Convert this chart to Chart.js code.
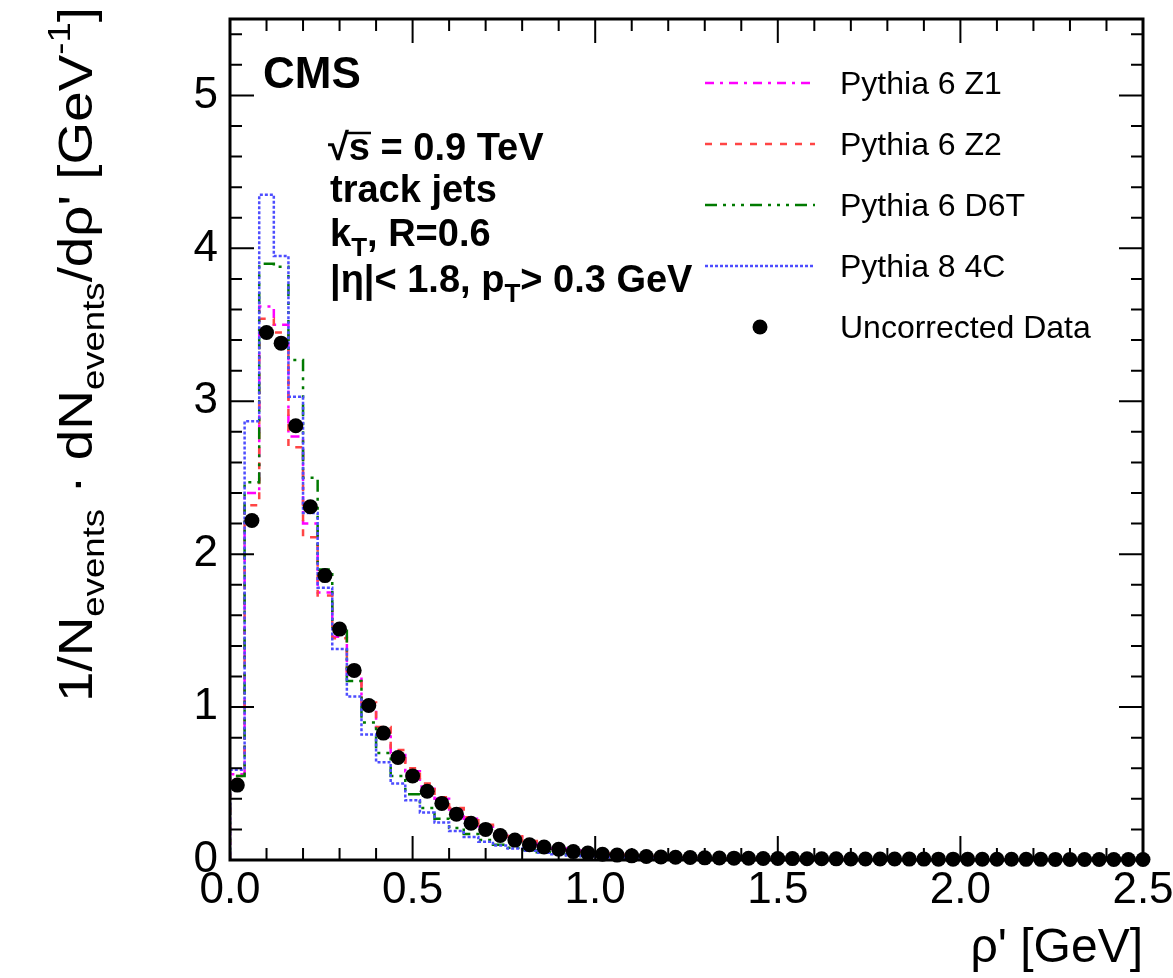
<!DOCTYPE html>
<html>
<head>
<meta charset="utf-8">
<script src="https://cdn.jsdelivr.net/npm/chart.js@4.4.1/dist/chart.umd.min.js"></script>
<style>
  html, body { margin: 0; padding: 0; background: #fff; }
  #wrap { position: relative; width: 1173px; height: 978px; }
</style>
</head>
<body>
<div id="wrap"><canvas id="myChart"></canvas></div>
<script>
// bins of 0.04 GeV starting at 0
const binWidth = 0.04;

const dataValues = [0.49, 2.22, 3.45, 3.38, 2.84, 2.31, 1.86, 1.51, 1.24, 1.01,
  0.83, 0.67, 0.55, 0.45, 0.37, 0.30, 0.24, 0.20, 0.16, 0.13,
  0.10, 0.085, 0.07, 0.055, 0.045, 0.038, 0.032, 0.027, 0.023, 0.020,
  0.018, 0.016, 0.014, 0.013, 0.012, 0.011, 0.010, 0.0095, 0.009, 0.0085,
  0.008, 0.0075, 0.007, 0.0068, 0.0065, 0.0062, 0.006, 0.0058, 0.0056, 0.0054,
  0.0052, 0.005, 0.0048, 0.0046, 0.0044, 0.0042, 0.004, 0.0038, 0.0036, 0.0034,
  0.0032, 0.003, 0.003];

const z1Values = [0.56, 2.40, 3.62, 3.50, 2.77, 2.20, 1.75, 1.46, 1.21, 1.01,
  0.85, 0.70, 0.58, 0.48, 0.40, 0.33, 0.27, 0.22, 0.18, 0.15,
  0.12, 0.095, 0.077, 0.062, 0.05, 0.04, 0.033, 0.027, 0.022, 0.018,
  0.015, 0.013, 0.011, 0.010, 0.009, 0.0085, 0.008, 0.0075, 0.007, 0.0066,
  0.0062, 0.0058, 0.0055, 0.0052, 0.005, 0.0048, 0.0046, 0.0044, 0.0042, 0.004,
  0.0038, 0.0036, 0.0035, 0.0034, 0.0033, 0.0032, 0.0031, 0.003, 0.0029, 0.0028,
  0.0027, 0.0026, 0.0025];

const z2Values = [0.55, 2.32, 3.54, 3.45, 2.70, 2.11, 1.73, 1.45, 1.22, 1.03,
  0.87, 0.72, 0.60, 0.50, 0.41, 0.34, 0.28, 0.23, 0.19, 0.155,
  0.125, 0.10, 0.08, 0.065, 0.052, 0.042, 0.034, 0.028, 0.023, 0.019,
  0.016, 0.014, 0.012, 0.011, 0.010, 0.009, 0.0085, 0.008, 0.0075, 0.007,
  0.0066, 0.0062, 0.0058, 0.0055, 0.0052, 0.005, 0.0048, 0.0046, 0.0044, 0.0042,
  0.004, 0.0038, 0.0036, 0.0035, 0.0034, 0.0033, 0.0032, 0.0031, 0.003, 0.0029,
  0.0028, 0.0027, 0.0026];

const d6tValues = [0.55, 2.47, 3.90, 3.88, 3.27, 2.50, 1.90, 1.50, 1.17, 0.90,
  0.70, 0.55, 0.43, 0.34, 0.27, 0.21, 0.17, 0.13, 0.10, 0.08,
  0.063, 0.05, 0.04, 0.032, 0.026, 0.021, 0.017, 0.014, 0.012, 0.010,
  0.0088, 0.0078, 0.007, 0.0063, 0.0057, 0.0052, 0.0048, 0.0044, 0.0041, 0.0038,
  0.0036, 0.0034, 0.0032, 0.003, 0.0029, 0.0028, 0.0027, 0.0026, 0.0025, 0.0024,
  0.0023, 0.0022, 0.0021, 0.002, 0.002, 0.0019, 0.0019, 0.0018, 0.0018, 0.0017,
  0.0017, 0.0016, 0.0016];

const c4Values = [0.59, 2.87, 4.35, 3.95, 3.03, 2.27, 1.78, 1.38, 1.07, 0.82,
  0.64, 0.50, 0.39, 0.31, 0.245, 0.19, 0.15, 0.12, 0.095, 0.075,
  0.06, 0.047, 0.037, 0.03, 0.024, 0.019, 0.016, 0.013, 0.011, 0.009,
  0.0078, 0.0068, 0.006, 0.0054, 0.0049, 0.0045, 0.0041, 0.0038, 0.0035, 0.0033,
  0.0031, 0.0029, 0.0027, 0.0026, 0.0025, 0.0024, 0.0023, 0.0022, 0.0021, 0.002,
  0.0019, 0.0019, 0.0018, 0.0018, 0.0017, 0.0017, 0.0016, 0.0016, 0.0015, 0.0015,
  0.0014, 0.0014, 0.0013];

const xTicks = [0, 0.5, 1.0, 1.5, 2.0, 2.5];
const yTicks = [0, 1, 2, 3, 4, 5];
const seriesNames = ["Pythia 6 Z1", "Pythia 6 Z2", "Pythia 6 D6T", "Pythia 8 4C", "Uncorrected Data"];

const tickFont = { family: "'Liberation Sans', sans-serif", size: 44 };

// histogram outline: points at lower bin edges, drawn with stepped 'before'
function histPoints(vals) {
  const pts = [{ x: 0, y: 0 }];
  vals.forEach((v, i) => pts.push({ x: i * binWidth, y: v }));
  pts.push({ x: vals.length * binWidth, y: vals[vals.length - 1] });
  return pts;
}

function mcDataset(label, vals, color, dash) {
  return {
    label: label,
    data: histPoints(vals),
    borderColor: color,
    borderWidth: 2.5,
    borderDash: dash,
    stepped: "before",
    pointRadius: 0,
    fill: false,
    tension: 0,
  };
}

const datasets = [
  {
    label: seriesNames[4],
    data: dataValues.map((v, i) => ({ x: (i + 0.5) * binWidth, y: v })),
    showLine: false,
    pointRadius: 7.5,
    pointBackgroundColor: "#000",
    pointBorderColor: "#000",
    pointBorderWidth: 0,
    clip: false,
  },
  mcDataset(seriesNames[3], c4Values, "#4d4dff", [3, 2]),
  mcDataset(seriesNames[2], d6tValues, "#007a00", [12, 6, 3, 6, 3, 6, 3, 6]),
  mcDataset(seriesNames[1], z2Values, "#ff4545", [7, 8]),
  mcDataset(seriesNames[0], z1Values, "#ff00ff", [9, 6, 3, 6]),
];

function drawRuns(ctx, x, y, runs) {
  runs.forEach((r) => {
    ctx.font = r.font;
    ctx.fillText(r.t, x, y + (r.dy || 0));
    r.x0 = x;
    x += ctx.measureText(r.t).width;
    r.x1 = x;
  });
  return x;
}

// ROOT-like frame with inward ticks on all four sides
const framePlugin = {
  id: "rootFrame",
  afterDatasetsDraw(chart) {
    const { ctx, chartArea: a, scales } = chart;
    const xs = scales.x, ys = scales.y;
    ctx.save();
    ctx.strokeStyle = "#000";
    ctx.lineWidth = 2;
    ctx.beginPath();
    for (let i = 0; i <= 25; i++) {
      const px = xs.getPixelForValue(i * 0.1);
      const len = i % 5 === 0 ? 24 : 12;
      ctx.moveTo(px, a.bottom); ctx.lineTo(px, a.bottom - len);
      ctx.moveTo(px, a.top); ctx.lineTo(px, a.top + len);
    }
    for (let i = 0; i <= 27; i++) {
      const py = ys.getPixelForValue(i * 0.2);
      const len = i % 5 === 0 ? 24 : 12;
      ctx.moveTo(a.left, py); ctx.lineTo(a.left + len, py);
      ctx.moveTo(a.right, py); ctx.lineTo(a.right - len, py);
    }
    ctx.stroke();
    ctx.lineWidth = 3;
    ctx.strokeRect(a.left, a.top, a.right - a.left, a.bottom - a.top);
    ctx.restore();
  },
};

const textPlugin = {
  id: "labels",
  afterDraw(chart) {
    const ctx = chart.ctx;
    const ds = chart.data.datasets;
    ctx.save();
    ctx.fillStyle = "#000";
    ctx.textBaseline = "alphabetic";
    ctx.textAlign = "left";

    const B = 'bold 38px "Liberation Sans"';
    const Bs = 'bold 26px "Liberation Sans"';
    ctx.font = 'bold 44px "Liberation Sans"';
    ctx.fillText("CMS", 263, 88);

    const l1 = [{ t: "\u221A", font: B }, { t: "s", font: B }, { t: " = 0.9 TeV", font: B }];
    drawRuns(ctx, 328, 160, l1);
    ctx.lineWidth = 2.5;
    ctx.beginPath();
    ctx.moveTo(l1[0].x1 - 3, 133);
    ctx.lineTo(l1[1].x1 + 1, 133);
    ctx.stroke();
    drawRuns(ctx, 330, 202, [{ t: "track jets", font: B }]);
    drawRuns(ctx, 330, 246, [{ t: "k", font: B }, { t: "T", font: Bs, dy: 10 }, { t: ", R=0.6", font: B }]);
    drawRuns(ctx, 330, 292, [
      { t: "|\u03B7|< 1.8, p", font: B }, { t: "T", font: Bs, dy: 10 }, { t: "> 0.3 GeV", font: B },
    ]);

    // legend
    const rows = [83, 144, 205, 266];
    const order = [4, 3, 2, 1];
    ctx.font = '32px "Liberation Sans"';
    ctx.textBaseline = "middle";
    rows.forEach((ry, k) => {
      const d = ds[order[k]];
      ctx.save();
      ctx.strokeStyle = d.borderColor;
      ctx.lineWidth = d.borderWidth;
      ctx.setLineDash(d.borderDash);
      ctx.beginPath();
      ctx.moveTo(705, ry);
      ctx.lineTo(815, ry);
      ctx.stroke();
      ctx.restore();
      ctx.fillText(d.label, 840, ry + 2);
    });
    ctx.beginPath();
    ctx.arc(760, 327, 7.5, 0, Math.PI * 2);
    ctx.fill();
    ctx.fillText(ds[0].label, 840, 329);

    // x title
    ctx.textBaseline = "alphabetic";
    ctx.textAlign = "right";
    ctx.font = '48px "Liberation Sans"';
    ctx.fillText("\u03C1' [GeV]", 1143, 962);

    // y title, rotated
    ctx.textAlign = "left";
    const F = '48px "Liberation Sans"';
    const Fs = '32px "Liberation Sans"';
    const runs = [
      { t: "1/N", font: F }, { t: "events", font: Fs, dy: 12 },
      { t: " \u00B7 dN", font: F }, { t: "events", font: Fs, dy: 12 },
      { t: "/d\u03C1' [GeV", font: F }, { t: "-1", font: Fs, dy: -22 }, { t: "]", font: F },
    ];
    let total = 0;
    runs.forEach((r) => { ctx.font = r.font; total += ctx.measureText(r.t).width; });
    ctx.translate(92, 702);
    ctx.rotate(-Math.PI / 2);
    ctx.scale(695 / total, 1);
    drawRuns(ctx, 0, 0, runs);
    ctx.restore();
  },
};

const chartDOM = document.getElementById("myChart").getContext("2d");
const miGrafica = new Chart(chartDOM, {
  type: "line",
  data: { datasets: datasets },
  options: {
    responsive: true,
    maintainAspectRatio: false,
    animation: false,
    layout: { padding: { left: 0, right: 30, top: 19, bottom: 0 } },
    plugins: { legend: { display: false }, tooltip: { enabled: false } },
    scales: {
      x: {
        type: "linear",
        min: 0,
        max: 2.5,
        afterBuildTicks: (s) => { s.ticks = xTicks.map((v) => ({ value: v })); },
        afterFit: (s) => { s.height = 118; s.paddingLeft = 0; s.paddingRight = 0; },
        ticks: {
          callback: (v) => v.toFixed(1),
          font: tickFont,
          color: "#000",
          padding: 4,
          maxRotation: 0,
          autoSkip: false,
        },
        grid: { display: false, drawTicks: false },
        border: { display: false },
      },
      y: {
        type: "linear",
        min: 0,
        max: 5.5,
        afterBuildTicks: (s) => { s.ticks = yTicks.map((v) => ({ value: v })); },
        afterFit: (s) => { s.width = 230; s.paddingTop = 0; s.paddingBottom = 0; },
        ticks: {
          callback: (v) => String(v),
          font: tickFont,
          color: "#000",
          padding: 12,
          autoSkip: false,
        },
        grid: { display: false, drawTicks: false },
        border: { display: false },
      },
    },
  },
  plugins: [framePlugin, textPlugin],
});
</script>
</body>
</html>
